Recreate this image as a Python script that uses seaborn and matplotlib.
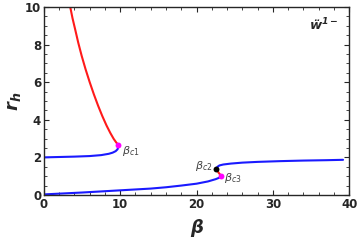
import matplotlib
matplotlib.use("Agg")
import matplotlib.pyplot as plt
import seaborn as sns
from matplotlib.ticker import MultipleLocator

# branch data (beta, r_h)
red_beta = [3.45, 3.75, 4.1, 4.5, 4.95, 5.45, 6.0, 6.55, 7.1, 7.65, 8.2, 8.7, 9.15, 9.5, 9.75]
red_r = [10.0, 9.4, 8.8, 8.1, 7.4, 6.7, 6.0, 5.35, 4.75, 4.2, 3.7, 3.3, 2.98, 2.78, 2.67]

blue_up_beta = [0.0, 2.0, 4.0, 6.0, 7.5, 8.5, 9.0, 9.4, 9.65, 9.75, 9.75]
blue_up_r = [2.0, 2.02, 2.04, 2.07, 2.12, 2.19, 2.25, 2.33, 2.43, 2.55, 2.67]

blue_low_beta = [0.0, 2.0, 5.0, 8.0, 11.0, 14.0, 16.0, 18.0, 20.0, 21.5, 22.5, 23.0, 23.2]
blue_low_r = [0.03, 0.07, 0.13, 0.2, 0.27, 0.34, 0.41, 0.5, 0.6, 0.72, 0.84, 0.92, 1.03]

red_short_beta = [23.2, 22.9, 22.6]
red_short_r = [1.03, 1.18, 1.39]

blue_right_beta = [22.6, 22.75, 23.0, 23.5, 24.5, 26.0, 28.0, 31.0, 34.0, 37.0, 39.2]
blue_right_r = [1.39, 1.5, 1.57, 1.62, 1.67, 1.72, 1.76, 1.8, 1.83, 1.85, 1.87]

crit_names = [r"$\beta_{c1}$", r"$\beta_{c2}$", r"$\beta_{c3}$"]
crit_beta = [9.75, 22.6, 23.2]
crit_r = [2.67, 1.39, 1.03]
crit_colors = ["#ff00ff", "black", "#ff00ff"]

sns.set_style("ticks")
plt.rcParams["mathtext.fontset"] = "custom"
plt.rcParams["mathtext.rm"] = "DejaVu Sans"
plt.rcParams["mathtext.it"] = "DejaVu Sans:italic"
plt.rcParams["mathtext.bf"] = "DejaVu Sans:italic:bold"

fig, ax = plt.subplots(figsize=(3.57, 2.41), dpi=100)
fig.subplots_adjust(left=0.123, right=0.978, bottom=0.191, top=0.971)

for bx, by, col in [
    (red_beta, red_r, "#ff1a1a"),
    (blue_up_beta, blue_up_r, "#1a1aff"),
    (blue_low_beta, blue_low_r, "#1a1aff"),
    (red_short_beta, red_short_r, "#ff1a1a"),
    (blue_right_beta, blue_right_r, "#1a1aff"),
]:
    sns.lineplot(x=bx, y=by, sort=False, estimator=None, color=col, lw=1.5, ax=ax)

for b, r, c in zip(crit_beta, crit_r, crit_colors):
    ax.scatter([b], [r], s=18, color=c, zorder=5, linewidths=0)

lab_kw = dict(fontsize=8, color="#444444")
ax.text(crit_beta[0] + 0.5, crit_r[0] - 0.35, crit_names[0], ha="left", va="center", **lab_kw)
ax.text(crit_beta[1] - 0.5, crit_r[1] + 0.15, crit_names[1], ha="right", va="center", **lab_kw)
ax.text(crit_beta[2] + 0.4, crit_r[2] - 0.15, crit_names[2], ha="left", va="center", **lab_kw)

ax.text(0.965, 0.95, r"$\mathbf{\ddot{w}^{1-}}$", transform=ax.transAxes,
        ha="right", va="top", fontsize=9.5)

ax.set_xlim(0, 40)
ax.set_ylim(0, 10)
ax.xaxis.set_major_locator(MultipleLocator(10))
ax.xaxis.set_minor_locator(MultipleLocator(2))
ax.yaxis.set_major_locator(MultipleLocator(2))
ax.yaxis.set_minor_locator(MultipleLocator(0.5))
ax.tick_params(which="both", direction="in", top=True, right=True, labelsize=8.5, pad=2)
ax.tick_params(which="major", length=3.5, width=0.8)
ax.tick_params(which="minor", length=2, width=0.6)
for lbl in ax.get_xticklabels() + ax.get_yticklabels():
    lbl.set_fontweight("bold")
for sp in ax.spines.values():
    sp.set_linewidth(1.0)

ax.set_xlabel("β", fontsize=13, fontweight="bold", style="italic", labelpad=6)
ax.set_ylabel(r"$\mathbf{r_h}$", fontsize=13, labelpad=1)

fig.savefig("out.png", dpi=100)
